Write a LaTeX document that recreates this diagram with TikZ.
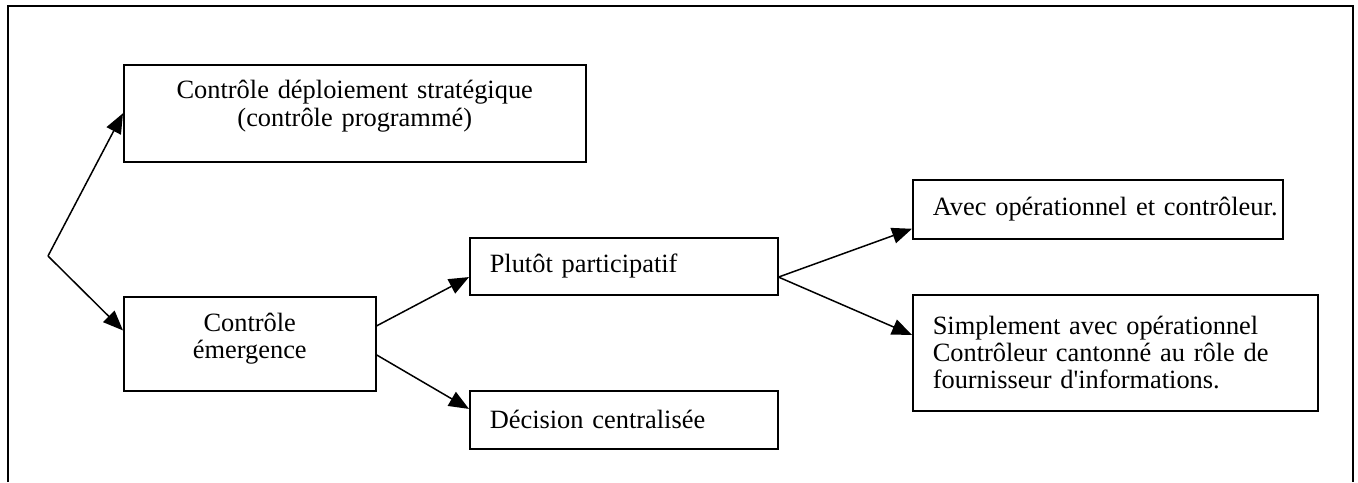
\documentclass[tikz,border=0pt]{standalone}
\usepackage{fontspec}
\setmainfont{Liberation Serif}
\usetikzlibrary{arrows.meta}

\begin{document}
\begin{tikzpicture}[x=0.5pt,y=-0.5pt,
        box/.style={draw,line width=0.75pt,anchor=north west,inner xsep=10pt,inner ysep=0pt,
            font=\fontsize{13.2}{13.6}\selectfont},
        arr/.style={line width=0.75pt,-{Triangle[length=10pt,width=8pt]}}]
        \useasboundingbox (0,0) rectangle (1358,482);

        % Frame
        \draw[line width=1pt] (8,482) -- (8,6) -- (1353,6) -- (1353,482);

        % Left column (text sits a little high in these two)
        \node[box,text width=211pt,minimum height=48.5pt,align=center] (dep) at (123,64)
            {Contrôle déploiement stratégique\\(contrôle programmé)\rule[-10pt]{0pt}{1pt}};
        \node[box,text width=106pt,minimum height=47pt,align=center] (emer) at (123,296)
            {Contrôle\\émergence\rule[-8pt]{0pt}{1pt}};

        % Middle column
        \node[box,text width=134pt,minimum height=28.5pt,align=left] (part) at (469,237)
            {Plutôt participatif};
        \node[box,text width=134pt,minimum height=29pt,align=left] (cent) at (469,390)
            {Décision centralisée};

        % Right column
        \node[box,text width=165pt,minimum height=29.5pt,align=left] (avec) at (912,179)
            {\mbox{Avec opérationnel et contrôleur.}};
        \node[box,text width=182.5pt,minimum height=58pt,align=left] (simp) at (912,294)
            {Simplement avec opérationnel\\Contrôleur cantonné au rôle de\\fournisseur d\textquotesingle informations.};

        % Connectors
        \coordinate (fork) at (48,256);
        \draw[arr] (fork) -- (dep.west);
        \draw[arr] (fork) -- (emer.174);
        \draw[arr] (emer.8) -- (part.184);
        \draw[arr] (emer.355) -- (cent.176);
        \draw[arr] (part.356.5) -- (avec.186);
        \draw[arr] (part.356.5) -- (simp.175);
    \end{tikzpicture}
\end{document}
